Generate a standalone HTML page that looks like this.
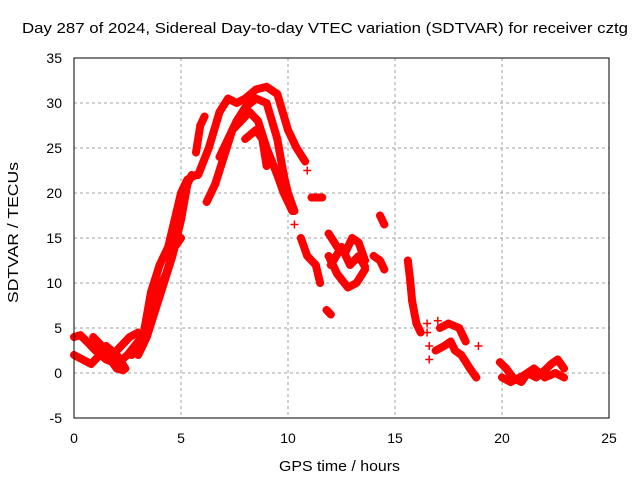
<!DOCTYPE html>
<html><head><meta charset="utf-8"><style>
body{margin:0;background:#fff}
svg{display:block;font-family:"Liberation Sans",sans-serif}
</style></head><body>
<svg id="chart" width="640" height="480">
<rect width="640" height="480" fill="#fff"/>
<g id="grid"></g>
<g id="series"></g>
<rect x="74" y="58" width="535" height="360" fill="none" stroke="#000" stroke-width="1"/>
<g id="ticks" font-size="14"></g>
<text x="22" y="33" font-size="15" textLength="606" lengthAdjust="spacingAndGlyphs">Day 287 of 2024, Sidereal Day-to-day VTEC variation (SDTVAR) for receiver cztg</text>
<text x="279" y="471" font-size="15" textLength="121" lengthAdjust="spacingAndGlyphs">GPS time / hours</text>
<text transform="translate(18,303) rotate(-90)" font-size="15" textLength="141" lengthAdjust="spacingAndGlyphs">SDTVAR / TECUs</text>
</svg>
<script>
const xTicks=[0,5,10,15,20,25];
const yTicks=[-5,0,5,10,15,20,25,30,35];
const trackA=[[3.3,5],[3.6,9],[4.0,12],[4.4,14],[4.8,18],[5.0,20],[5.3,21.5],[5.7,22]];
const trackB=[[3.0,2],[3.4,4],[3.8,7],[4.2,10],[4.6,13],[5.0,17],[5.3,21],[5.5,22]];
const trackC=[[2.7,2],[3.2,3],[3.5,5],[3.9,9],[4.3,11],[4.7,14],[5.0,15]];
const trackD=[[0,4],[0.3,4.2],[0.6,3.5],[1,2.5],[1.5,1.5],[2,1],[2.5,2],[3,3.5],[3.3,4.3]];
const trackE=[[0,2],[0.4,1.5],[0.8,1],[1.2,2],[1.5,3],[2,2],[2.4,0.5]];
const trackF=[[0.9,4],[1.3,3],[1.7,1.5],[2.0,0.5],[2.3,0.3]];
const trackG=[[1.8,2],[2.2,3],[2.6,4],[3.0,4.5]];
const trackH=[[5.8,22],[6.3,25],[6.8,29],[7.2,30.5],[7.6,30],[8,30.5],[8.5,31.5],[9,31.8],[9.5,31],[10,27],[10.4,25],[10.8,23.5]];
const trackI=[[6.8,24],[7.2,26],[7.6,28],[8.0,29.5],[8.5,30.5],[9,30],[9.5,26],[9.8,22],[10,20],[10.3,18]];
const trackJ=[[6.2,19],[6.6,21],[7,24],[7.4,27],[7.8,28],[8.2,29],[8.6,28],[9.0,25],[9.5,22],[9.8,20],[10.2,18]];
const trackK=[[8,26],[8.5,27],[8.8,26],[9.0,23]];
const trackL=[[5.7,24.5],[5.9,27.5],[6.1,28.5]];
const trackM=[[11.1,19.5],[11.6,19.5]];
const trackN=[[10.6,15],[10.9,13],[11.3,12],[11.5,10]];
const trackO=[[11.8,7],[12.0,6.5]];
const trackP=[[11.9,15.5],[12.3,14],[12.7,13.5],[13.0,15],[13.3,14.5],[13.6,12.5]];
const trackQ=[[11.9,13],[12.3,11],[12.8,9.5],[13.2,10],[13.6,11.5]];
const trackR=[[12.0,12],[12.5,14],[12.9,12],[13.3,13],[13.6,11.8]];
const trackS=[[14.0,13],[14.3,12.5],[14.5,11.5]];
const trackT=[[14.3,17.5],[14.5,16.5]];
const trackU=[[15.6,12.5],[15.7,10.5],[15.8,8],[16.0,5.5],[16.2,4.5]];
const trackV=[[16.9,2.5],[17.3,3],[17.6,3.5],[17.8,2.5],[18.1,2],[18.5,0.5],[18.8,-0.5]];
const trackW=[[17.1,5],[17.5,5.5],[18,5],[18.3,3.5]];
const trackX=[[19.9,1.2],[20.2,0.5],[20.5,-0.5],[20.9,-1],[21.2,0],[21.6,-0.5],[22,0.3],[22.3,1],[22.6,1.5],[22.9,0.5]];
const trackY=[[20,-0.5],[20.4,-1],[21,-0.3],[21.5,0.5],[22,-0.5],[22.5,0],[22.9,-0.5]];
const scatter=[[16.5,5.5],[16.5,4.5],[16.6,3],[16.6,1.5],[18.9,3],[17.0,5.8],[10.9,22.5],[10.3,16.5]];
const tracks=[trackA,trackB,trackC,trackD,trackE,trackF,trackG,trackH,trackI,trackJ,trackK,trackL,trackM,trackN,trackO,trackP,trackQ,trackR,trackS,trackT,trackU,trackV,trackW,trackX,trackY];

const X=t=>74+t*535/25;
const Y=v=>58+(35-v)*9;
const NS='http://www.w3.org/2000/svg';
const grid=document.getElementById('grid'),ticks=document.getElementById('ticks'),ser=document.getElementById('series');
function mk(tag,a,p){const e=document.createElementNS(NS,tag);for(const k in a)e.setAttribute(k,a[k]);p.appendChild(e);return e;}
xTicks.forEach(t=>{
  const l=mk('line',{x1:X(t),x2:X(t),y1:58,y2:418,stroke:'#a0a0a0','stroke-dasharray':'3,3'},grid);
  
  
  const s=mk('text',{x:X(t),y:443,'text-anchor':'middle'},ticks);s.textContent=t;
  
  
});
yTicks.forEach(v=>{
  const l=mk('line',{x1:74,x2:609,y1:Y(v),y2:Y(v),stroke:'#a0a0a0','stroke-dasharray':'3,3'},grid);
  
  
  const s=mk('text',{x:62,y:Y(v)+5,'text-anchor':'end'},ticks);s.textContent=v;
  
  
});
function plus(t,v){
  const p=mk('path',{d:`M${X(t)-4},${Y(v)}h8M${X(t)},${Y(v)-4}v8`,stroke:'#f00','stroke-width':1.5},ser);
  
  
}
tracks.forEach(tr=>{
  const pl=mk('polyline',{points:tr.map(p=>X(p[0])+','+Y(p[1])).join(' '),fill:'none',stroke:'#f00','stroke-width':8,'stroke-linejoin':'round','stroke-linecap':'round'},ser);
  
  
  tr.forEach(p=>plus(p[0],p[1]));
});
scatter.forEach(p=>plus(p[0],p[1]));
</script>
</body></html>
